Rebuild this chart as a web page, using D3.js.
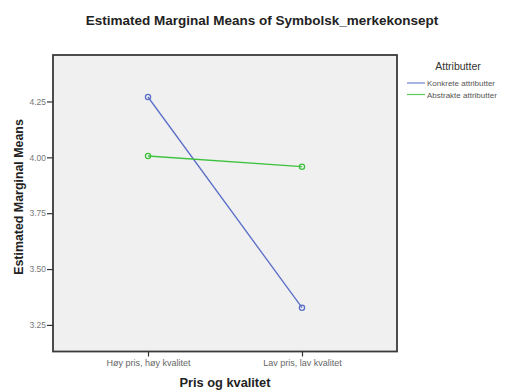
<!DOCTYPE html>
<html>
<head>
<meta charset="utf-8">
<script src="https://cdn.jsdelivr.net/npm/d3@7"></script>
<style>
  html, body { margin: 0; padding: 0; background: #fff; }
  svg { display: block; font-family: "Liberation Sans", Arial, sans-serif; }
</style>
</head>
<body>
<svg id="chart" width="510" height="392"></svg>
<script>
// Estimated marginal means by price/quality level and attribute type
const categories = ["Høy pris, høy kvalitet", "Lav pris, lav kvalitet"];
const seriesNames = ["Konkrete attributter", "Abstrakte attributter"];
const konkreteValues = [4.27, 3.327];
const abstrakteValues = [4.006, 3.958];
const yTicks = [3.25, 3.50, 3.75, 4.00, 4.25];
const seriesColors = ["#5a6ec8", "#3ec23e"];

const series = [
  { name: seriesNames[0], values: konkreteValues, color: seriesColors[0] },
  { name: seriesNames[1], values: abstrakteValues, color: seriesColors[1] }
];

const svg = d3.select("#chart");
const frame = { left: 53, right: 397, top: 55, bottom: 351.5 };

const x = d3.scalePoint()
  .domain(categories)
  .range([frame.left, frame.right])
  .padding(0.617);

const y = d3.scaleLinear()
  .domain([3.131, 4.458])
  .range([frame.bottom, frame.top]);

// Title
svg.append("text")
  .attr("x", 262).attr("y", 25)
  .attr("text-anchor", "middle")
  .attr("font-size", 13.5).attr("font-weight", "bold")
  .attr("fill", "#222")
  .text("Estimated Marginal Means of Symbolsk_merkekonsept");

// Plot background and frame
svg.append("rect")
  .attr("x", frame.left).attr("y", frame.top)
  .attr("width", frame.right - frame.left)
  .attr("height", frame.bottom - frame.top)
  .attr("fill", "#f0f0f0")
  .attr("stroke", "#3a3a3a")
  .attr("stroke-width", 1.8);

// Y axis
const yAxis = d3.axisLeft(y)
  .tickValues(yTicks)
  .tickFormat(d3.format(".2f"))
  .tickSize(6)
  .tickPadding(1);
const gy = svg.append("g")
  .attr("transform", `translate(${frame.left},0)`)
  .call(yAxis);
gy.select(".domain").remove();
gy.selectAll(".tick line").attr("stroke", "#333").attr("stroke-width", 1.2);
gy.selectAll(".tick text")
  .attr("font-size", 8.5).attr("fill", "#777")
  .attr("font-family", "Liberation Sans, Arial, sans-serif");

// X axis
const xAxis = d3.axisBottom(x).tickSize(5).tickPadding(3);
const gx = svg.append("g")
  .attr("transform", `translate(0,${frame.bottom})`)
  .call(xAxis);
gx.select(".domain").remove();
gx.selectAll(".tick line").attr("stroke", "#333").attr("stroke-width", 1.2);
gx.selectAll(".tick text")
  .attr("font-size", 9).attr("fill", "#666")
  .attr("font-family", "Liberation Sans, Arial, sans-serif");

// Axis titles
svg.append("text")
  .attr("x", 225).attr("y", 387)
  .attr("text-anchor", "middle")
  .attr("font-size", 12.8).attr("font-weight", "bold").attr("fill", "#222")
  .text("Pris og kvalitet");

svg.append("text")
  .attr("transform", "translate(23,197) rotate(-90)")
  .attr("text-anchor", "middle")
  .attr("font-size", 12.4).attr("font-weight", "bold").attr("fill", "#222")
  .text("Estimated Marginal Means");

// Lines and markers
const line = d3.line()
  .x((d, i) => x(categories[i]))
  .y(d => y(d));

const groups = svg.append("g").selectAll("g")
  .data(series)
  .join("g");

groups.append("path")
  .attr("d", d => line(d.values))
  .attr("fill", "none")
  .attr("stroke", d => d.color)
  .attr("stroke-width", 1.3);

groups.selectAll("circle")
  .data(d => d.values.map((v, i) => ({ v, i, color: d.color })))
  .join("circle")
  .attr("cx", d => x(categories[d.i]))
  .attr("cy", d => y(d.v))
  .attr("r", 2.6)
  .attr("fill", "none")
  .attr("stroke", d => d.color)
  .attr("stroke-width", 1.3);

// Legend
const legend = svg.append("g");
legend.append("text")
  .attr("x", 458).attr("y", 70)
  .attr("text-anchor", "middle")
  .attr("font-size", 10.5).attr("font-weight", "normal").attr("fill", "#333")
  .text("Attributter");

const items = legend.selectAll("g.item")
  .data(series)
  .join("g").attr("class", "item")
  .attr("transform", (d, i) => `translate(407,${83 + i * 11.5})`);
items.append("line")
  .attr("x1", 0).attr("x2", 18)
  .attr("stroke", d => d.color).attr("stroke-width", 1.2)
  .attr("opacity", 0.85);
items.append("text")
  .attr("x", 20).attr("y", 3)
  .attr("font-size", 8).attr("fill", "#555")
  .text(d => d.name);
</script>
</body>
</html>
